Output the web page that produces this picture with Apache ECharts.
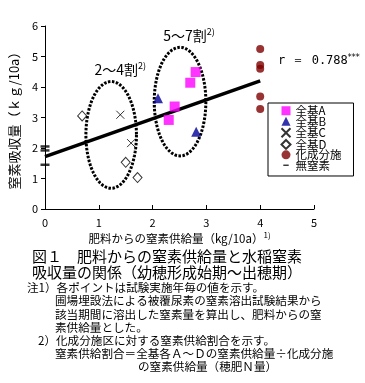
<!DOCTYPE html>
<html><head><meta charset="utf-8">
<script src="https://cdn.jsdelivr.net/npm/echarts@6/dist/echarts.min.js"></script>
<style>html,body{margin:0;padding:0;background:#fff}#c{width:365px;height:383px}</style>
</head><body><div id="c"></div>
<script>
// ---- data ----
const seriesA = [[2.30,2.92],[2.41,3.36],[2.70,4.14],[2.80,4.49]];
const seriesB = [[2.10,3.63],[2.81,2.53]];
const seriesC = [[1.40,3.09],[1.60,2.16]];
const seriesD = [[0.69,3.05],[1.50,1.53],[1.72,1.03]];
const kasei = [[4,5.25],[4,4.72],[4,4.60],[4,3.69],[4,3.28]];
const muchiso = [[0,2.05],[0,1.92],[0,1.45]];
const regression = [[0,1.72],[4,4.20]];
// ellipse: centerX, centerY, radiusX, radiusY, label
const ellipses = [[1.23,2.43,0.47,1.75,'2～4割'],[2.51,3.52,0.48,1.78,'5～7割']];
const legendNames = ['全基A','全基B','全基C','全基D','化成分施','無窒素'];
const xTicks = [0,1,2,3,4,5];
const yTicks = [0,1,2,3,4,5,6];
const rText = 'r ＝ 0.788';
const captionLines = ['図１　肥料からの窒素供給量と水稲窒素','吸収量の関係（幼穂形成始期～出穂期）'];
const noteLines = [
  ['注1）各ポイントは試験実施年毎の値を示す。',27],
  ['圃場埋設法による被覆尿素の窒素溶出試験結果から',55],
  ['該当期間に溶出した窒素量を算出し、肥料からの窒',55],
  ['素供給量とした。',55],
  ['2）化成分施区に対する窒素供給割合を示す。',38],
  ['窒素供給割合＝全基各Ａ～Ｄの窒素供給量÷化成分施',55],
  ['の窒素供給量（穂肥Ｎ量）',138]
];

const FONT = '"Noto Sans CJK JP", "Noto Sans", sans-serif';
const chart = echarts.init(document.getElementById('c'), null, {renderer:'canvas'});

const graphics = [];
captionLines.forEach((t,i)=>{
  graphics.push({type:'text', left:32, top:249+i*16, style:{text:t, font:'15px '+FONT, fill:'#000'}});
});
noteLines.forEach((n,i)=>{
  graphics.push({type:'text', left:n[1], top:282+i*13.2, style:{text:n[0], font:'11.6px '+FONT, fill:'#000'}});
});
graphics.push({type:'text', left:278, top:54, style:{
  text:'{a|'+rText+'}{s|***}',
  rich:{a:{font:'12px "DejaVu Sans Mono", monospace', fill:'#000'}, s:{font:'8px "DejaVu Sans", sans-serif', fill:'#000', padding:[0,0,6,0]}}
}});

const dashIcon = 'path://M0,0L0,0M2,4.2L8,4.2L8,5.8L2,5.8ZM10,10L10,10';

const option = {
  animation:false,
  textStyle:{fontFamily:FONT},
  grid:{left:44, right:51, top:26, bottom:174, containLabel:false},
  xAxis:{
    type:'value', min:0, max:5, interval:1,
    axisLine:{lineStyle:{color:'#000', width:1}},
    axisTick:{inside:true, length:4, lineStyle:{color:'#000'}},
    axisLabel:{color:'#000', fontSize:11, margin:8},
    splitLine:{show:false},
    name:'{a|肥料からの窒素供給量（kg/10a）}{s|1)}',
    nameLocation:'middle', nameGap:22,
    nameTextStyle:{rich:{a:{fontSize:11.5, color:'#000', fontFamily:FONT}, s:{fontSize:8, color:'#000', padding:[0,0,8,0]}}}
  },
  yAxis:{
    type:'value', min:0, max:6, interval:1,
    axisLine:{show:true, lineStyle:{color:'#000', width:1}},
    axisTick:{show:true, length:4, lineStyle:{color:'#000'}},
    axisLabel:{color:'#000', fontSize:11, margin:7},
    splitLine:{show:false},
    name:'窒素吸収量（ｋｇ/10a）', nameLocation:'middle', nameRotate:90, nameGap:16,
    nameTextStyle:{fontSize:13, color:'#000'}
  },
  legend:{
    orient:'vertical', left:268, top:103,
    data:legendNames.map(n => n==='無窒素' ? {name:n, icon:dashIcon} : {name:n}),
    itemWidth:9, itemHeight:9, itemGap:-1.1,
    borderColor:'#000', borderWidth:1, borderRadius:0,
    padding:[2,12,5,11],
    textStyle:{fontSize:11.5, color:'#000', lineHeight:9},
    selectedMode:false
  },
  graphic:graphics,
  series:[
    {
      type:'custom', name:'ellipse', data:ellipses, silent:true, z:1,
      renderItem:function(params, api){
        const cx=api.value(0), cy=api.value(1), rx=api.value(2), ry=api.value(3);
        const c=api.coord([cx,cy]);
        const s=api.size([rx,ry]);
        const pts=[];
        for(let i=0;i<=96;i++){
          const a=i/96*Math.PI*2;
          pts.push([c[0]+s[0]*Math.cos(a), c[1]+s[1]*Math.sin(a)]);
        }
        const label=ellipses[params.dataIndex][4];
        return {type:'group', children:[
          {type:'polyline', shape:{points:pts}, style:{fill:null, stroke:'#000', lineWidth:3, lineDash:[2.5,1.5]}},
          {type:'text', style:{text:'{a|'+label+'}{s|2)}', x:c[0]+9, y:c[1]-s[1]-4, align:'center', verticalAlign:'bottom',
            rich:{a:{fontSize:14, fill:'#000', fontFamily:FONT}, s:{fontSize:9, fill:'#000', padding:[0,0,7,0], fontFamily:FONT}}}}
        ]};
      }
    },
    {
      type:'line', name:'regression', data:regression, symbol:'none', z:2, silent:true,
      lineStyle:{color:'#000', width:3.5}
    },
    {type:'scatter', name:'全基A', data:seriesA, symbol:'rect', symbolSize:10, z:3, itemStyle:{color:'#FF00FF'}},
    {type:'scatter', name:'全基B', data:seriesB, symbol:'triangle', symbolSize:[10,10], z:3, itemStyle:{color:'#000099'}},
    {type:'scatter', name:'全基C', data:seriesC, symbol:'path://M0,0L10,10M10,0L0,10', symbolSize:8, z:3,
      itemStyle:{color:'none', borderColor:'#000', borderWidth:1}},
    {type:'scatter', name:'全基D', data:seriesD, symbol:'diamond', symbolSize:[9,10], z:3,
      itemStyle:{color:'#fff', borderColor:'#000', borderWidth:1}},
    {type:'scatter', name:'化成分施', data:kasei, symbol:'circle', symbolSize:8, z:3, itemStyle:{color:'#800000'}},
    {type:'scatter', name:'無窒素', data:muchiso, symbol:'rect', symbolSize:[9,2.5], z:3, itemStyle:{color:'#000'}}
  ]
};
chart.setOption(option);
</script>
</body></html>
